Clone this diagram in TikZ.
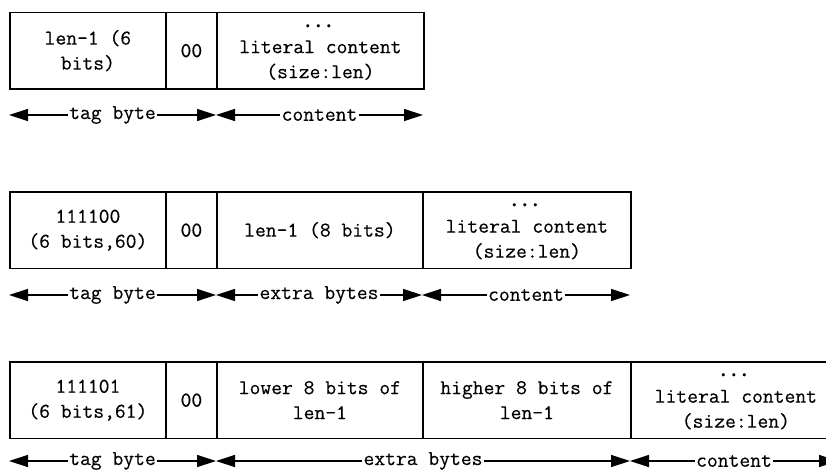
\documentclass[tikz,border=0pt]{standalone}
\usetikzlibrary{arrows.meta}
\usepackage{amsmath,bm}
\usepackage{fontspec}
\setmonofont[FakeBold=0.35]{Latin Modern Mono}
\newcommand\cellfont{\ttfamily\fontsize{21}{25}\selectfont}
\tikzset{
  cell/.style={draw, line width=1.8pt, anchor=north west, minimum height=76.5pt,
    inner sep=0pt, align=center, font=\cellfont},
  dimline/.style={line width=1.3pt,
    {Triangle[length=19pt,width=12pt]}-{Triangle[length=19pt,width=12pt]}},
  lbl/.style={fill=white, inner sep=1.2pt, font=\cellfont},
}
\begin{document}
\begin{tikzpicture}[x=1pt,y=-1pt]
\useasboundingbox (0,0) rectangle (826,471);
\clip (0,0) rectangle (826,471);
% row 1
\node[cell, minimum width=156pt] (a1) at (9,11.5) {len-1 (6\\bits)};
\node[cell, minimum width=51pt] (a2) at (165,11.5) {00};
\node[cell, minimum width=207pt] (a3) at (216,11.5) {$\bm{\cdots}$\\[-3pt]literal content\\(size:len)};
\coordinate (r1a) at (9,115);
\coordinate (r1b) at (216,115);
\coordinate (r1c) at (423,115);
\draw[dimline] (r1a) -- node[lbl]{tag byte} (r1b);
\draw[dimline] (r1b) -- node[lbl]{content} (r1c);
% row 2
\node[cell, minimum width=156pt] (b1) at (9,191) {111100\\(6 bits,60)};
\node[cell, minimum width=51pt] (b2) at (165,191) {00};
\node[cell, minimum width=206pt] (b3) at (216,191) {len-1 (8 bits)};
\node[cell, minimum width=208pt] (b4) at (422,191) {$\bm{\cdots}$\\[-3pt]literal content\\(size:len)};
\coordinate (r2a) at (9,295);
\coordinate (r2b) at (216,295);
\coordinate (r2c) at (422,295);
\coordinate (r2d) at (630,295);
\draw[dimline] (r2a) -- node[lbl]{tag byte} (r2b);
\draw[dimline] (r2b) -- node[lbl]{extra bytes} (r2c);
\draw[dimline] (r2c) -- node[lbl]{content} (r2d);
% row 3
\node[cell, minimum width=156pt] (c1) at (9,361) {111101\\(6 bits,61)};
\node[cell, minimum width=51pt] (c2) at (165,361) {00};
\node[cell, minimum width=206pt] (c3) at (216,361) {lower 8 bits of\\len-1};
\node[cell, minimum width=208pt] (c4) at (422,361) {higher 8 bits of\\len-1};
\node[cell, minimum width=210pt] (c5) at (630,361) {$\bm{\cdots}$\\[-3pt]literal content\\(size:len)};
\coordinate (r3a) at (9,461);
\coordinate (r3b) at (216,461);
\coordinate (r3c) at (630,461);
\coordinate (r3d) at (838,461);
\draw[dimline] (r3a) -- node[lbl]{tag byte} (r3b);
\draw[dimline] (r3b) -- node[lbl]{extra bytes} (r3c);
\draw[dimline] (r3c) -- node[lbl]{content} (r3d);
\end{tikzpicture}
\end{document}
